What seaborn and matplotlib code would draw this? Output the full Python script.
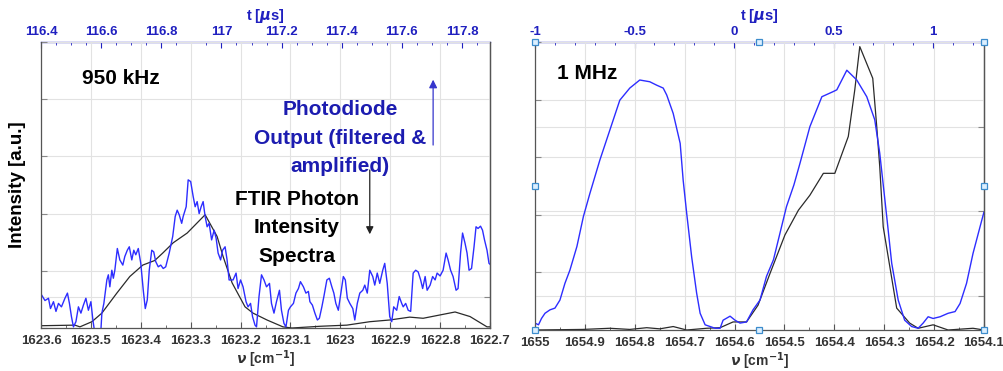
import matplotlib
matplotlib.use("Agg")
import matplotlib.pyplot as plt
import seaborn as sns
from matplotlib.ticker import MultipleLocator

sns.set_style("ticks")
plt.rcParams["font.family"] = ["Liberation Sans", "DejaVu Sans"]
plt.rcParams["font.weight"] = "bold"
plt.rcParams["axes.labelweight"] = "bold"
plt.rcParams["mathtext.fontset"] = "dejavusans"

BLUE_LINE = "#2d2dff"
BLUE_TXT = "#1c1cb0"
TOP_BLUE = "#2020c0"
DARK = "#333333"
GRID = "#e2e2e2"

# ---- 950 kHz panel: photodiode output (blue) ----
pd950_nu = [
    1623.599, 1623.592, 1623.585, 1623.581, 1623.575, 1623.570, 1623.565, 1623.559, 1623.552, 1623.547,
    1623.543, 1623.539, 1623.535, 1623.530, 1623.525, 1623.520, 1623.515, 1623.510, 1623.505, 1623.500,
    1623.496, 1623.492, 1623.485, 1623.480, 1623.478, 1623.474, 1623.468, 1623.465, 1623.462, 1623.458,
    1623.455, 1623.452, 1623.447, 1623.442, 1623.436, 1623.432, 1623.427, 1623.423, 1623.418, 1623.414,
    1623.410, 1623.405, 1623.400, 1623.395, 1623.391, 1623.387, 1623.383, 1623.378, 1623.374, 1623.370,
    1623.365, 1623.360, 1623.355, 1623.350, 1623.343, 1623.336, 1623.331, 1623.327, 1623.323, 1623.318,
    1623.315, 1623.309, 1623.305, 1623.300, 1623.295, 1623.291, 1623.287, 1623.283, 1623.279, 1623.275,
    1623.271, 1623.267, 1623.263, 1623.258, 1623.253, 1623.249, 1623.245, 1623.240, 1623.236, 1623.231,
    1623.227, 1623.223,
    1623.215, 1623.209, 1623.205, 1623.200, 1623.195, 1623.189, 1623.185, 1623.180, 1623.176, 1623.171,
    1623.168, 1623.163, 1623.158, 1623.153, 1623.148, 1623.142, 1623.138, 1623.133, 1623.128, 1623.122,
    1623.118, 1623.113, 1623.109, 1623.104, 1623.100, 1623.094, 1623.089, 1623.084, 1623.080, 1623.074,
    1623.069, 1623.064, 1623.061, 1623.056, 1623.051, 1623.046, 1623.042, 1623.037, 1623.033, 1623.027,
    1623.022, 1623.017, 1623.013, 1623.009, 1623.004, 1622.999, 1622.994, 1622.990, 1622.986, 1622.981,
    1622.975, 1622.971, 1622.966, 1622.961, 1622.955, 1622.951, 1622.946, 1622.941, 1622.935, 1622.931,
    1622.926, 1622.921, 1622.915, 1622.911, 1622.906, 1622.901, 1622.897, 1622.893, 1622.887, 1622.882,
    1622.877, 1622.874, 1622.869, 1622.864, 1622.859, 1622.854, 1622.849, 1622.844, 1622.839, 1622.835,
    1622.830, 1622.826, 1622.820, 1622.815, 1622.810, 1622.806, 1622.800, 1622.794, 1622.788, 1622.784,
    1622.779, 1622.774, 1622.768, 1622.764, 1622.759, 1622.755, 1622.750, 1622.746, 1622.742, 1622.737,
    1622.732, 1622.728, 1622.724, 1622.719, 1622.715, 1622.711, 1622.706, 1622.702, 1622.698,
]
pd950_int = [
    0.58, 0.48, 0.52, 0.34, 0.46, 0.29, 0.43, 0.37, 0.52, 0.61,
    0.43, 0.20, 0.02, 0.11, 0.37, 0.26, 0.40, 0.52, 0.31, 0.46,
    0.14, -0.10, -0.15, -0.05, 0.26, 0.43, 0.84, 0.93, 0.72, 1.01,
    0.87, 1.01, 1.39, 1.19, 1.10, 1.25, 1.36, 1.42, 1.19, 1.36,
    1.28, 1.39, 1.13, 0.66, 0.34, 0.49, 1.01, 1.36, 1.33, 1.16,
    1.07, 1.10, 1.04, 1.07, 1.31, 1.60, 1.95, 2.06, 1.98, 1.83,
    1.95, 2.12, 2.59, 2.56, 2.30, 2.12, 2.21, 2.00, 2.12, 2.21,
    1.95, 1.77, 1.83, 1.54, 1.71, 1.57, 1.31, 1.19, 1.36, 1.42,
    1.19, 0.84,
    0.84, 0.96, 0.69, 0.84, 0.72, 0.46, 0.37, 0.43, 0.20, 0.05,
    0.02, 0.55, 0.93, 0.84, 0.72, 0.78, 0.43, 0.26, 0.46, 0.66,
    0.31, 0.08, 0.02, 0.31, 0.37, 0.43, 0.61, 0.69, 0.81, 0.72,
    0.61, 0.64, 0.46, 0.40, 0.26, 0.14, 0.17, 0.37, 0.55, 0.84,
    0.87, 0.72, 0.61, 0.43, 0.31, 0.61, 0.90, 0.84, 0.52, 0.43,
    0.34, 0.14, 0.43, 0.61, 0.66, 0.75, 0.61, 1.01, 0.90, 0.75,
    0.96, 0.78, 1.01, 1.13, 0.78, 0.20, 0.11, 0.37, 0.31, 0.55,
    0.43, 0.37, 0.43, 0.31, 0.29, 0.96, 1.01, 0.98, 0.84, 0.69,
    0.90, 0.66, 0.75, 0.90, 0.84, 0.96, 0.91, 1.01, 1.31, 1.19,
    1.01, 0.90, 0.66, 0.69, 1.31, 1.66, 1.48, 1.31, 1.01, 1.04,
    1.42, 1.77, 1.74, 1.78, 1.71, 1.54, 1.36, 1.13, 1.10,
]

# ---- 950 kHz panel: FTIR spectrum (black) ----
ftir950_nu = [1623.599, 1623.532, 1623.522, 1623.498, 1623.478, 1623.448, 1623.422, 1623.396,
              1623.372, 1623.356, 1623.335, 1623.307, 1623.271, 1623.247, 1623.235, 1623.217,
              1623.191, 1623.175, 1623.147, 1623.115, 1623.097, 1623.041, 1622.987, 1622.941,
              1622.901, 1622.861, 1622.834, 1622.770, 1622.740, 1622.706, 1622.700]
ftir950_int = [0.04, 0.05, 0.02, 0.11, 0.26, 0.61, 0.90, 1.10,
               1.18, 1.31, 1.49, 1.66, 1.98, 1.60, 1.25, 0.79,
               0.37, 0.26, 0.14, 0.02, 0.00, 0.03, 0.05, 0.11,
               0.14, 0.19, 0.17, 0.28, 0.20, 0.02, 0.02]

# ---- 1 MHz panel: photodiode output (blue) ----
pd1m_nu = [1655.000, 1654.993, 1654.987, 1654.980, 1654.970, 1654.960, 1654.950, 1654.940, 1654.930, 1654.916,
           1654.903, 1654.890, 1654.870, 1654.850, 1654.830, 1654.810, 1654.790, 1654.770, 1654.756, 1654.743,
           1654.736, 1654.723, 1654.709, 1654.703, 1654.696, 1654.686, 1654.676, 1654.669, 1654.659, 1654.649,
           1654.639, 1654.629, 1654.623, 1654.609, 1654.599, 1654.589, 1654.576, 1654.563, 1654.549, 1654.536,
           1654.522, 1654.509, 1654.496, 1654.481, 1654.469, 1654.449, 1654.425, 1654.402, 1654.395, 1654.375,
           1654.355, 1654.335, 1654.319, 1654.309, 1654.303, 1654.295, 1654.285, 1654.272, 1654.259, 1654.245,
           1654.232, 1654.222, 1654.212, 1654.202, 1654.188, 1654.172, 1654.158, 1654.148, 1654.135, 1654.122,
           1654.108, 1654.100]
pd1m_int = [0.12, 0.09, 0.20, 0.29, 0.35, 0.38, 0.52, 0.81, 1.04, 1.45,
            1.97, 2.37, 2.95, 3.47, 3.99, 4.20, 4.34, 4.31, 4.25, 4.20,
            4.08, 3.76, 3.24, 2.60, 2.03, 1.27, 0.64, 0.29, 0.09, 0.06,
            0.03, 0.03, 0.17, 0.24, 0.17, 0.12, 0.14, 0.35, 0.52, 0.93,
            1.22, 1.68, 2.14, 2.52, 2.89, 3.53, 4.05, 4.14, 4.17, 4.51,
            4.34, 4.05, 3.65, 3.07, 2.60, 1.97, 1.16, 0.52, 0.17, 0.06,
            0.03, 0.12, 0.23, 0.20, 0.23, 0.29, 0.32, 0.46, 0.81, 1.33,
            1.79, 2.05]

# ---- 1 MHz panel: FTIR spectrum (black) ----
ftir1m_nu = [1655.000, 1654.904, 1654.850, 1654.810, 1654.776, 1654.750, 1654.723, 1654.696, 1654.656,
             1654.629, 1654.603, 1654.576, 1654.553, 1654.529, 1654.499, 1654.472, 1654.449, 1654.422,
             1654.399, 1654.372, 1654.359, 1654.349, 1654.323, 1654.315, 1654.309, 1654.302, 1654.275,
             1654.249, 1654.232, 1654.202, 1654.172, 1654.122, 1654.100]
ftir1m_int = [0.00, 0.01, 0.03, 0.01, 0.04, 0.02, 0.06, 0.00, 0.03,
              0.04, 0.14, 0.14, 0.43, 0.98, 1.65, 2.08, 2.34, 2.72,
              2.72, 3.36, 4.17, 4.92, 4.37, 3.53, 2.84, 1.79, 0.38,
              0.12, 0.03, 0.09, 0.00, 0.03, 0.00]

nu_ticks_950 = [1623.6, 1623.5, 1623.4, 1623.3, 1623.2, 1623.1, 1623.0, 1622.9, 1622.8, 1622.7]
nu_labels_950 = ["1623.6", "1623.5", "1623.4", "1623.3", "1623.2", "1623.1", "1623", "1622.9", "1622.8", "1622.7"]
t_ticks_950 = [116.4, 116.6, 116.8, 117.0, 117.2, 117.4, 117.6, 117.8]
t_labels_950 = ["116.4", "116.6", "116.8", "117", "117.2", "117.4", "117.6", "117.8"]

nu_ticks_1m = [1655.0, 1654.9, 1654.8, 1654.7, 1654.6, 1654.5, 1654.4, 1654.3, 1654.2, 1654.1]
nu_labels_1m = ["1655", "1654.9", "1654.8", "1654.7", "1654.6", "1654.5", "1654.4", "1654.3", "1654.2", "1654.1"]
t_ticks_1m = [-1.0, -0.5, 0.0, 0.5, 1.0]
t_labels_1m = ["-1", "-0.5", "0", "0.5", "1"]

fig = plt.figure(figsize=(10.04, 3.71), dpi=100)


def make_panel(rect, nu_lim, nu_ticks, nu_labels, t_lim, t_ticks, t_labels, t_minor,
               right_lim, right_ticks):
    ax = fig.add_axes(rect)
    axr = ax.twinx()
    axt = ax.twiny()
    ax.set_zorder(3)
    ax.patch.set_visible(False)

    ax.set_xlim(nu_lim)
    ax.set_ylim(0, 5)
    ax.set_xticks(nu_ticks)
    ax.set_xticklabels(nu_labels, fontsize=9.5, color=DARK, fontweight="bold")
    ax.xaxis.set_minor_locator(MultipleLocator(0.05))
    ax.set_yticks(range(6))
    ax.set_yticklabels([])
    ax.tick_params(axis="x", which="major", direction="in", length=4, pad=5, color="#555555")
    ax.tick_params(axis="x", which="minor", direction="in", length=2, color="#555555")
    ax.tick_params(axis="y", direction="in", length=4, color="#888888")
    ax.grid(True, color=GRID, lw=0.8)
    ax.set_xlabel(r"$\nu$ [cm$^{\mathbf{-1}}$]", fontsize=10, color=DARK,
                  fontweight="bold", labelpad=1)
    for side in ["left", "bottom", "right"]:
        ax.spines[side].set_color("#555555")
        ax.spines[side].set_linewidth(0.9)
    ax.spines["top"].set_visible(False)

    axr.set_ylim(right_lim)
    axr.set_yticks(right_ticks)
    axr.set_yticklabels([])
    axr.tick_params(axis="y", direction="in", length=4, color="#888888")
    axr.grid(True, axis="y", color=GRID, lw=0.8)
    for side in ["left", "bottom", "top"]:
        axr.spines[side].set_visible(False)
    axr.spines["right"].set_color("#555555")
    axr.spines["right"].set_linewidth(0.9)

    axt.set_xlim(t_lim)
    axt.set_xticks(t_ticks)
    axt.set_xticklabels(t_labels, fontsize=9.5, color=TOP_BLUE, fontweight="bold")
    axt.xaxis.set_minor_locator(MultipleLocator(t_minor))
    axt.tick_params(axis="x", which="major", direction="in", length=4, pad=3, color=TOP_BLUE)
    axt.tick_params(axis="x", which="minor", direction="in", length=2, color=TOP_BLUE)
    axt.set_xlabel(r"t [$\mu$s]", fontsize=10.5, color=TOP_BLUE, fontweight="bold", labelpad=4)
    axt.grid(False)
    for side in ["left", "bottom", "right"]:
        axt.spines[side].set_visible(False)
    axt.spines["top"].set_color("#4b4bd0")
    axt.spines["top"].set_linewidth(1.0)
    return ax


# left panel: 950 kHz
ax1 = make_panel([41 / 1004, 43 / 371, 449 / 1004, 286 / 371],
                 (1623.6, 1622.7), nu_ticks_950, nu_labels_950,
                 (116.4, 117.893), t_ticks_950, t_labels_950, 0.05,
                 (-0.366, 3.01), [0])
sns.lineplot(x=ftir950_nu, y=ftir950_int, ax=ax1, color="#2a2a2a", lw=0.9,
             sort=False, estimator=None)
sns.lineplot(x=pd950_nu, y=pd950_int, ax=ax1, color=BLUE_LINE, lw=1.0,
             sort=False, estimator=None)
ax1.set_ylabel("Intensity [a.u.]", fontsize=13.5, color="black", fontweight="bold")
ax1.yaxis.set_label_coords(-0.034, 0.5)

ax1.text(0.091, 0.874, "950 kHz", transform=ax1.transAxes, fontsize=15,
         ha="left", va="center", color="black", fontweight="bold")
ax1.text(0.666, 0.664, "Photodiode\nOutput (filtered &\namplified)", transform=ax1.transAxes,
         fontsize=15, ha="center", va="center", multialignment="center",
         color=BLUE_TXT, linespacing=1.65, fontweight="bold")
ax1.text(0.570, 0.35, "FTIR Photon\nIntensity\nSpectra", transform=ax1.transAxes,
         fontsize=15, ha="center", va="center", multialignment="center",
         color="black", linespacing=1.65, fontweight="bold")
ax1.annotate("", xy=(1622.814, 4.39), xytext=(1622.814, 3.15),
             arrowprops=dict(arrowstyle="-|>", color="#3535cc", lw=0.9, mutation_scale=12))
ax1.annotate("", xy=(1622.941, 1.59), xytext=(1622.941, 2.81),
             arrowprops=dict(arrowstyle="-|>", color="#222222", lw=0.9, mutation_scale=11))

# right panel: 1 MHz
ax2 = make_panel([535 / 1004, 41 / 371, 449 / 1004, 288 / 371],
                 (1655.0, 1654.1), nu_ticks_1m, nu_labels_1m,
                 (-1.0, 1.256), t_ticks_1m, t_labels_1m, 0.1,
                 (-0.4, 3.0), [0, 1, 2, 3])
sns.lineplot(x=ftir1m_nu, y=ftir1m_int, ax=ax2, color="#2a2a2a", lw=0.9,
             sort=False, estimator=None)
sns.lineplot(x=pd1m_nu, y=pd1m_int, ax=ax2, color=BLUE_LINE, lw=1.0,
             sort=False, estimator=None)
ax2.set_ylabel("")
ax2.text(0.049, 0.889, "1 MHz", transform=ax2.transAxes, fontsize=15,
         ha="left", va="center", color="black", fontweight="bold")

# selection handles drawn round the right panel (axes fractions)
handle_x = [0, 0.5, 1, 0, 1, 0, 0.5, 1]
handle_y = [1, 1, 1, 0.5, 0.5, 0, 0, 0]
ax2.plot(handle_x, handle_y, "s", ms=4.5, mfc="#dcefff", mec="#3c8ccc", mew=0.9,
         transform=ax2.transAxes, clip_on=False, zorder=10, ls="none")

fig.savefig("out.png", dpi=100)
